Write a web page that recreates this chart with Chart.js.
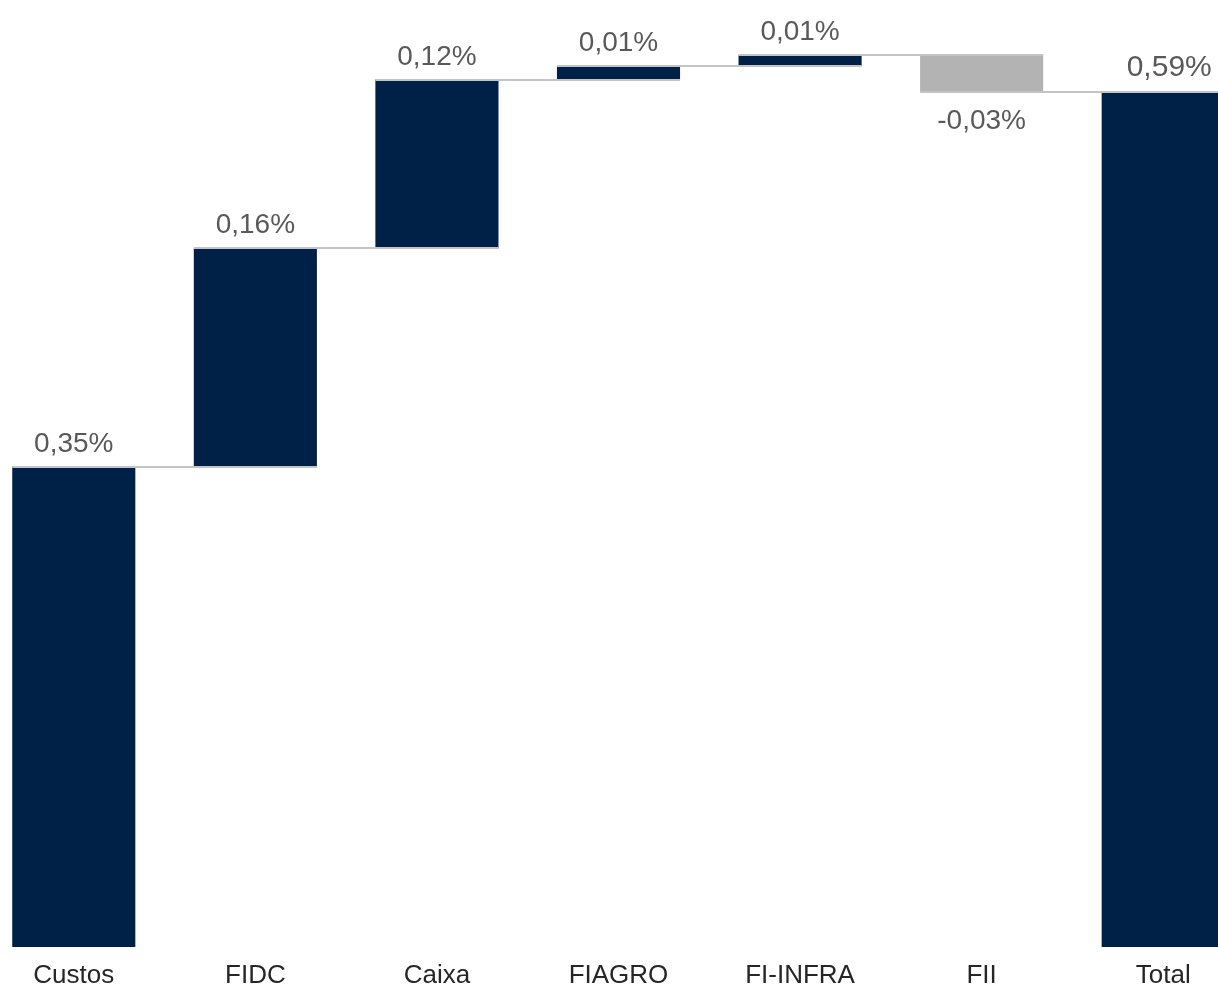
<!DOCTYPE html>
<html>
<head>
<meta charset="utf-8">
<script src="https://cdn.jsdelivr.net/npm/chart.js@4.4.1/dist/chart.umd.min.js"></script>
<style>
  html, body { margin: 0; padding: 0; background: #ffffff; overflow: hidden; width: 1218px; height: 987px; }
  #wrap { position: absolute; left: -17px; top: 0; width: 1271px; height: 987px; }
</style>
</head>
<body>
<div id="wrap"><canvas id="c" width="1271" height="987"></canvas></div>
<script>
// Data
const categories = ["Custos", "FIDC", "Caixa", "FIAGRO", "FI-INFRA", "FII", "Total"];
const deltas = [0.350, 0.159, 0.123, 0.010, 0.008, -0.027];   // step contributions (%)
const valueLabels = ["0,35%", "0,16%", "0,12%", "0,01%", "0,01%", "-0,03%", "0,59%"];

const NAVY = "#002147";
const GREY = "#b3b3b3";

// Build floating bars
const ranges = [];
const colors = [];
let cum = 0;
deltas.forEach((d, i) => {
  ranges.push([cum, cum + d]);
  cum += d;
  colors.push(d < 0 ? GREY : NAVY);
});
ranges.push([0, cum]);
colors.push(NAVY);
const afterLevels = ranges.map(r => r[1]);

const overlay = {
  id: "overlay",
  afterDatasetsDraw(chart) {
    const ctx = chart.ctx;
    const meta = chart.getDatasetMeta(0);
    const y = chart.scales.y;
    ctx.save();
    // connector lines
    ctx.strokeStyle = "#c4c4c4";
    ctx.lineWidth = 2;
    for (let i = 0; i < meta.data.length; i++) {
      const bar = meta.data[i];
      const half = bar.width / 2;
      const x0 = bar.x - half;
      const next = meta.data[i + 1];
      const x1 = next ? next.x + half : bar.x + half;
      const py = Math.round(y.getPixelForValue(afterLevels[i]));
      ctx.beginPath();
      ctx.moveTo(x0, py);
      ctx.lineTo(x1, py);
      ctx.stroke();
    }
    // value labels
    ctx.fillStyle = "#595959";
    ctx.textAlign = "center";
    ctx.textBaseline = "alphabetic";
    for (let i = 0; i < meta.data.length; i++) {
      const bar = meta.data[i];
      const r = ranges[i];
      const isTotal = i === meta.data.length - 1;
      ctx.font = (isTotal ? "30px" : "28px") + " 'Liberation Sans', Arial, sans-serif";
      if (!isTotal && deltas[i] < 0) {
        const py = y.getPixelForValue(Math.min(r[0], r[1]));
        ctx.fillText(valueLabels[i], bar.x, py + 37);
      } else {
        const py = y.getPixelForValue(Math.max(r[0], r[1]));
        ctx.fillText(valueLabels[i], bar.x + (isTotal ? 6 : 0), py - (isTotal ? 16 : 15));
      }
    }
    ctx.restore();
  }
};

new Chart(document.getElementById("c"), {
  type: "bar",
  data: {
    labels: categories,
    datasets: [{
      data: ranges,
      backgroundColor: colors,
      borderWidth: 0,
      barPercentage: 0.678,
      categoryPercentage: 1.0
    }]
  },
  options: {
    responsive: false,
    animation: false,
    events: [],
    layout: { padding: 0 },
    plugins: { legend: { display: false }, tooltip: { enabled: false } },
    scales: {
      x: {
        grid: { display: false },
        border: { display: false },
        ticks: {
          color: "#262626",
          font: { family: "'Liberation Sans', Arial, sans-serif", size: 26 },
          padding: 5,
          maxRotation: 0,
          autoSkip: false
        },
        afterFit(axis) { axis.height = 40; }
      },
      y: {
        display: false,
        min: 0,
        max: 0.69
      }
    }
  },
  plugins: [overlay]
});
</script>
</body>
</html>
